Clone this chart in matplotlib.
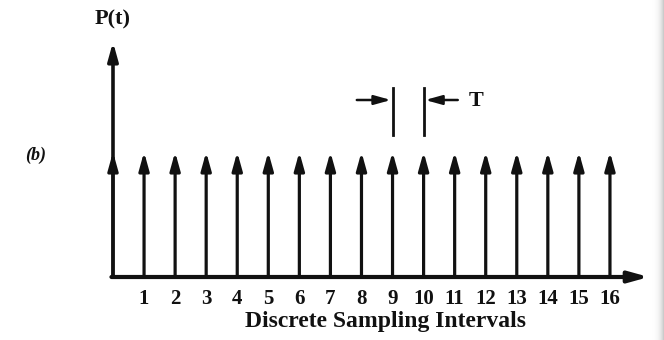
import numpy as np
import matplotlib.pyplot as plt

# sample instants and impulse heights
samples = list(range(0, 17))
heights = [1.0] * len(samples)
tick_labels = [str(n) for n in range(1, 17)]

ink = "#111111"
serif = ["Liberation Serif", "DejaVu Serif"]

fig = plt.figure(figsize=(6.64, 3.4), dpi=100)
ax = fig.add_axes([0, 0, 1, 1])
ax.set_xlim(-3.638, 17.74)
ax.set_ylim(-0.504, 2.216)
ax.axis("off")

head = "-|>,head_length=0.9,head_width=0.25"

# impulses
for t, h in zip(samples, heights):
    ax.annotate("", xy=(t, h), xytext=(t, 0),
                arrowprops=dict(arrowstyle=head, lw=2.3, color=ink,
                                shrinkA=0, shrinkB=0, mutation_scale=12))

# axes with arrows
ax.annotate("", xy=(0, 1.88), xytext=(0, 0),
            arrowprops=dict(arrowstyle=head, lw=2.6, color=ink,
                            shrinkA=0, shrinkB=0, mutation_scale=12))
ax.annotate("", xy=(17.25, 0), xytext=(-0.05, 0),
            arrowprops=dict(arrowstyle=head, lw=3.0, color=ink,
                            shrinkA=0, shrinkB=0, mutation_scale=13))

# tick labels
for i, lab in enumerate(tick_labels):
    ax.text(i + 1, -0.175, lab, ha="center", va="center", fontsize=15,
            fontweight="bold", family=serif, color=ink)

ax.text(8.76, -0.355, "Discrete Sampling Intervals", ha="center", va="center",
        fontsize=17, fontweight="bold", family=serif, color=ink)
ax.text(0, 2.06, "P(t)", ha="center", va="center", fontsize=16,
        fontweight="bold", family=serif, color=ink)
ax.text(-2.5, 0.97, "(b)", ha="center", va="center", fontsize=13,
        fontweight="bold", style="italic", family=serif, color=ink)

# period marker T
ax.plot([9, 9], [1.136, 1.512], color=ink, lw=2.0)
ax.plot([10, 10], [1.136, 1.512], color=ink, lw=2.0)
ax.annotate("", xy=(8.95, 1.416), xytext=(7.85, 1.416),
            arrowprops=dict(arrowstyle=head, lw=1.8, color=ink,
                            shrinkA=0, shrinkB=0, mutation_scale=11))
ax.annotate("", xy=(10.05, 1.416), xytext=(11.1, 1.416),
            arrowprops=dict(arrowstyle=head, lw=1.8, color=ink,
                            shrinkA=0, shrinkB=0, mutation_scale=11))
ax.text(11.69, 1.41, "T", ha="center", va="center", fontsize=16,
        fontweight="bold", family=serif, color=ink)

# grey scan shadow at the right edge
shade = np.linspace(0, 1, 40).reshape(1, -1) ** 2
ax.imshow(shade, cmap="Greys", vmin=0, vmax=2.2, alpha=0.8, aspect="auto",
          extent=[17.35, 17.74, -0.504, 2.216], zorder=0)

fig.savefig("out.png", dpi=100)
